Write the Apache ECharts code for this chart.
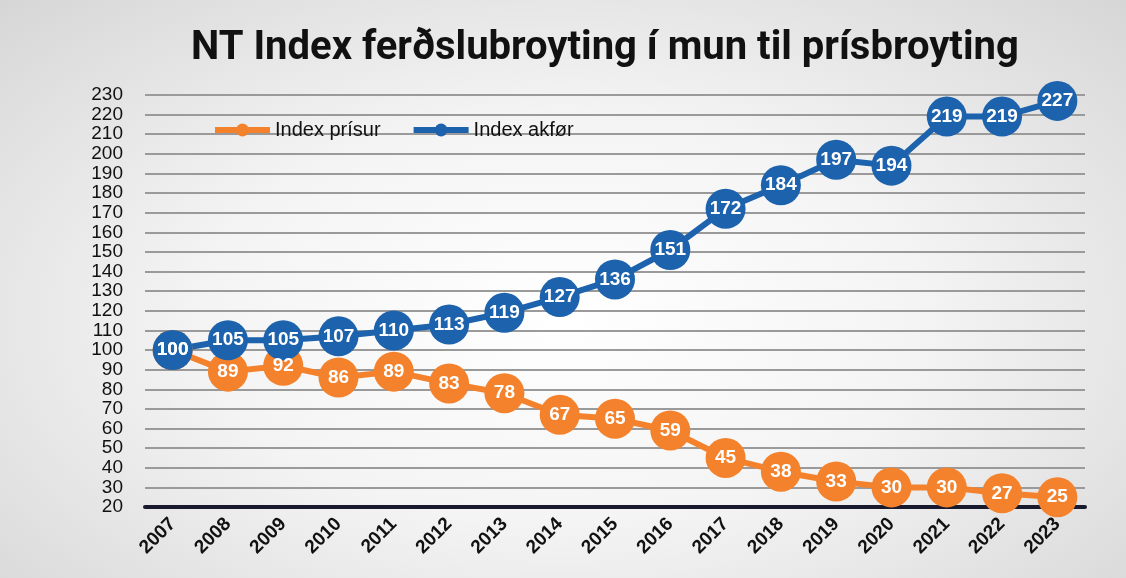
<!DOCTYPE html>
<html>
<head>
<meta charset="utf-8">
<script src="https://cdn.jsdelivr.net/npm/echarts@6/dist/echarts.min.js"></script>
<style>
  html, body { margin: 0; padding: 0; }
  body {
    width: 1126px; height: 578px;
    background: radial-gradient(ellipse at 50% 55%, #ffffff 0%, #f4f4f4 45%, #d6d6d6 100%);
  }
  #chart { width: 1126px; height: 578px; }
</style>
</head>
<body>
<div id="chart"></div>
<script>
// data
const years = ['2007', '2008', '2009', '2010', '2011', '2012', '2013', '2014', '2015', '2016', '2017', '2018', '2019', '2020', '2021', '2022', '2023']
const indexPrisur = [100, 89, 92, 86, 89, 83, 78, 67, 65, 59, 45, 38, 33, 30, 30, 27, 25]
const indexAkfor = [100, 105, 105, 107, 110, 113, 119, 127, 136, 151, 172, 184, 197, 194, 219, 219, 227]
const seriesNames = ['Index prísur', 'Index akfør']

const orange = '#f4822c'
const blue = '#1c62ad'

const myChart = echarts.init(document.getElementById('chart'))

function lineSeries(name, data, color) {
  return {
    name: name,
    type: 'line',
    data: data,
    symbol: 'circle',
    symbolSize: 40,
    lineStyle: { color: color, width: 6 },
    itemStyle: { color: color },
    label: {
      show: true,
      position: 'inside',
      color: '#fff',
      fontSize: 19,
      fontWeight: 'bold',
      fontFamily: 'Liberation Sans'
    },
    emphasis: { disabled: true }
  }
}

const option = {
  animation: false,
  backgroundColor: 'transparent',
  title: {
    text: 'NT Index ferðslubroyting í mun til prísbroyting',
    left: 186,
    top: 24,
    textStyle: {
      fontFamily: 'Roboto',
      fontWeight: 'bold',
      fontSize: 40,
      color: '#111'
    }
  },
  legend: {
    top: 115,
    left: 207,
    itemWidth: 55,
    itemHeight: 16,
    itemGap: 30,
    lineStyle: { width: 6 },
    textStyle: { fontSize: 20, color: '#111', fontFamily: 'Liberation Sans' },
    data: seriesNames
  },
  grid: { left: 145, right: 41, top: 95, bottom: 71 },
  xAxis: {
    type: 'category',
    data: years,
    boundaryGap: true,
    axisTick: { show: false },
    axisLine: { show: true, lineStyle: { color: '#1a1a2e', width: 4 } },
    axisLabel: {
      rotate: 45,
      interval: 0,
      margin: 14,
      fontSize: 19,
      fontWeight: 'bold',
      color: '#111',
      fontFamily: 'Liberation Sans'
    }
  },
  yAxis: {
    type: 'value',
    min: 20,
    max: 230,
    interval: 10,
    axisLine: { show: false },
    axisTick: { show: false },
    axisLabel: {
      fontSize: 19,
      color: '#111',
      margin: 22,
      fontFamily: 'Liberation Sans'
    },
    splitLine: { lineStyle: { color: '#9a9a9a', width: 2 } }
  },
  series: [
    lineSeries(seriesNames[0], indexPrisur, orange),
    lineSeries(seriesNames[1], indexAkfor, blue)
  ]
}

myChart.setOption(option)
</script>
</body>
</html>
